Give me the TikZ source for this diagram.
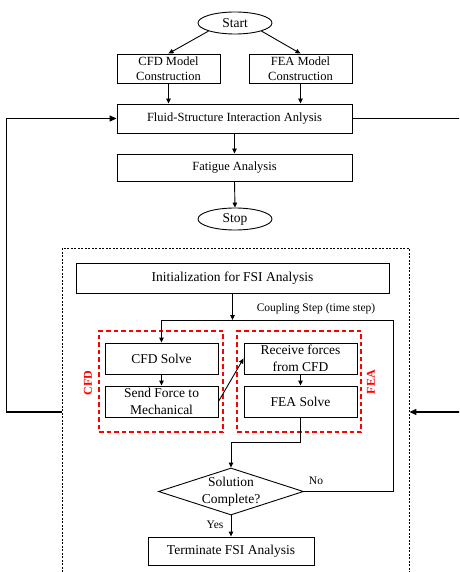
\documentclass[tikz,border=0pt]{standalone}
\usepackage{fontspec}
\setmainfont{Liberation Serif}
\usetikzlibrary{arrows.meta,shapes.geometric}
\begin{document}
\begin{tikzpicture}[x=1pt,y=-1pt,
  box/.style={draw,line width=0.9pt,inner sep=0pt,align=center},
  oval/.style={draw,ellipse,line width=0.9pt,inner sep=0pt,minimum width=74pt,minimum height=22pt,font=\fontsize{13.5}{16}\selectfont},
  topf/.style={font=\fontsize{12.5}{15}\selectfont},
  botf/.style={font=\fontsize{13.5}{16.5}\selectfont},
  lblf/.style={font=\fontsize{11.5}{14}\selectfont,inner sep=0pt},
  arr/.style={-{Triangle[length=5pt,width=4.5pt]},line width=0.9pt},
  looparr/.style={-{Triangle[length=7pt,width=6pt]},line width=1.3pt},
  loopline/.style={line width=1.3pt},
  reddash/.style={draw=red,line width=1.2pt,dash pattern=on 4.5pt off 3pt,inner sep=0pt},
  redlbl/.style={text=red,font=\fontsize{12}{14}\selectfont\bfseries,rotate=90,inner sep=0pt},
  outerbox/.style={draw,line width=0.8pt,dash pattern=on 2pt off 1.5pt,inner sep=0pt}
]
\useasboundingbox (0,0) rectangle (459,572);
\clip (0,0) rectangle (459,572);

% top flow
\node[oval] (start) at (235,23) {Start};
\node[box,topf,minimum width=103pt,minimum height=29pt] (cfdm) at (168.5,68.5) {CFD Model\\Construction};
\node[box,topf,minimum width=103pt,minimum height=29pt] (feam) at (300.5,68.5) {FEA Model\\Construction};
\node[box,topf,minimum width=235pt,minimum height=29pt] (fsi) at (234.5,118.5) {Fluid-Structure Interaction Anlysis};
\node[box,topf,minimum width=235pt,minimum height=27pt] (fat) at (234.5,167.5) {Fatigue Analysis};
\node[oval] (stop) at (235,219) {Stop};

\draw[arr] (start.south west) -- (cfdm.north);
\draw[arr] (start.south east) -- (feam.north);
\draw[arr] (cfdm.south) -- (cfdm.south |- fsi.north);
\draw[arr] (feam.south) -- (feam.south |- fsi.north);
\draw[arr] (fsi.south) -- (fat.north);
\draw[arr] (fat.south) -- (stop.north);

% outer dashed region
\node[outerbox,minimum width=347pt,minimum height=328pt] (outer) at (235.5,412) {};

% loops
\draw[looparr] (outer.west) -- ++(-55,0) |- (fsi.west);
\coordinate (rtop) at (470,118.5);
\coordinate (rbot) at (470,412);
\draw[loopline] (fsi.east) -- (rtop);
\draw[looparr] (rbot) -- (outer.east);

% inner flow
\node[box,botf,minimum width=313pt,minimum height=30pt] (init) at (232.5,278) {Initialization for FSI Analysis};
\coordinate (cpl) at (232.5,320);
\coordinate (nr) at (393,320);
\node[lblf] (cpllbl) at (316,309) {Coupling Step (time step)};

\node[reddash,minimum width=124pt,minimum height=101pt] (cfdg) at (161,381.5) {};
\node[reddash,minimum width=124pt,minimum height=101pt] (feag) at (299,381.5) {};
\node[redlbl] (cfdl) at (88,383) {CFD};
\node[redlbl] (feal) at (371,382) {FEA};

\node[box,botf,minimum width=113pt,minimum height=31pt] (cfds) at (161.5,358.5) {CFD Solve};
\node[box,botf,minimum width=113pt,minimum height=31pt] (send) at (161.5,401.5) {Send Force to\\Mechanical};
\node[box,botf,minimum width=113pt,minimum height=31pt] (recv) at (300.5,358.5) {Receive forces\\from CFD};
\node[box,botf,minimum width=113pt,minimum height=31pt] (feas) at (300.5,401.5) {FEA Solve};

\node[draw,diamond,line width=0.9pt,inner sep=0pt,minimum width=145pt,minimum height=47pt] (dec) at (231,491.5) {};
\node[botf,align=center,inner sep=0pt] (dectxt) at (dec) {Solution\\Complete?};
\node[box,botf,minimum width=166pt,minimum height=28pt] (term) at (231,551) {Terminate FSI Analysis};
\node[lblf] (nolbl) at (316,481) {No};
\node[lblf] (yeslbl) at (215,525) {Yes};

\draw[arr] (init.south) -- (cpl);
\draw[arr] (dec.east) -| (nr) -| (cfds.north);
\draw[arr] (cfds.south) -- (send.north);
\draw[arr] (recv.south) -- (feas.north);
\draw[arr] (send.east) -- (recv.west);
\draw[arr] (feas.south) -- ++(0,25) -| (dec.north);
\draw[arr] (dec.south) -- (term.north);
\end{tikzpicture}
\end{document}
